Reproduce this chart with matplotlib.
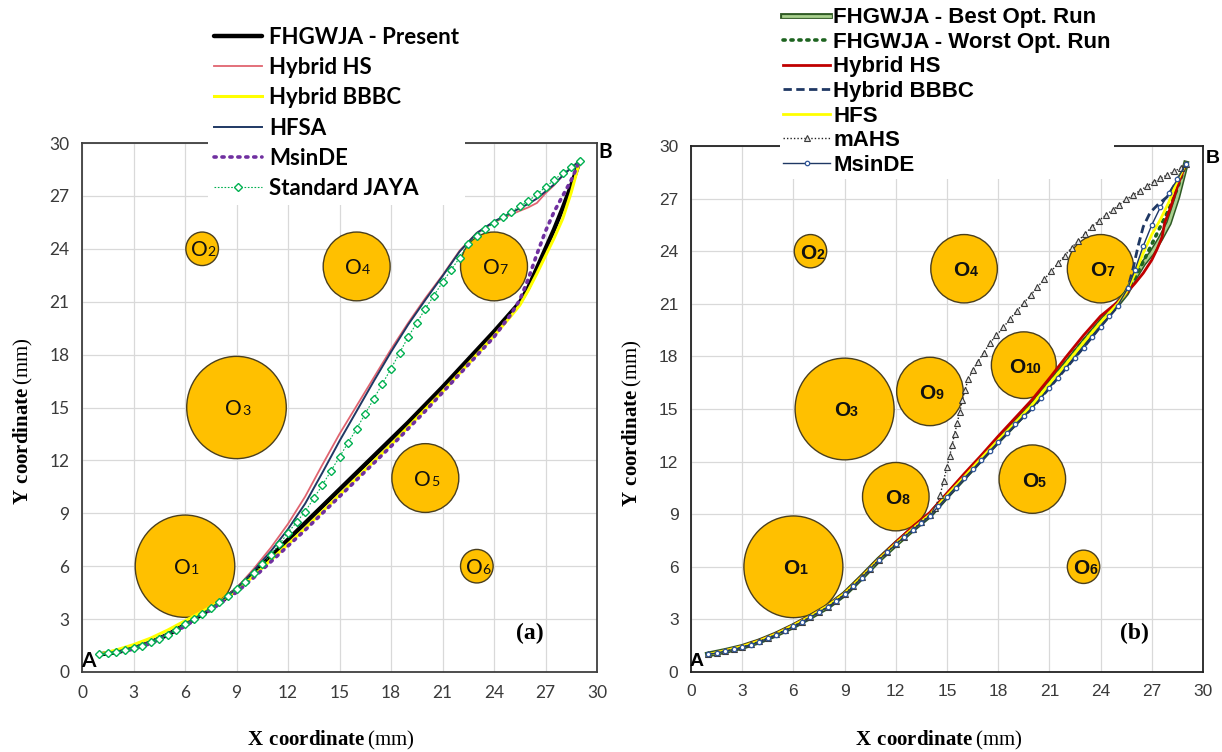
import matplotlib
matplotlib.use("Agg")
import matplotlib.pyplot as plt
import matplotlib.patheffects as pe
from matplotlib.patches import Ellipse
from matplotlib.font_manager import FontProperties

plt.rcParams["mathtext.fontset"] = "custom"
plt.rcParams["mathtext.rm"] = "Liberation Serif"
plt.rcParams["mathtext.bf"] = "Liberation Serif:bold"

# ---------------- obstacles (centre x, centre y, radius) ----------------
obs_left_x = [6, 7, 9, 16, 20, 23, 24]
obs_left_y = [6, 24, 15, 23, 11, 6, 23]
obs_left_r = [2.9, 0.95, 2.9, 1.95, 1.95, 0.95, 1.95]
obs_left_id = ["1", "2", "3", "4", "5", "6", "7"]

obs_right_x = [6, 7, 9, 16, 20, 23, 24, 12, 14, 19.5]
obs_right_y = [6, 24, 15, 23, 11, 6, 23, 10, 16, 17.5]
obs_right_r = [2.9, 0.95, 2.9, 1.95, 1.95, 0.95, 1.95, 1.95, 1.95, 1.9]
obs_right_id = ["1", "2", "3", "4", "5", "6", "7", "8", "9", "10"]

# ---------------- panel (a) paths ----------------
grid_a = [1, 2, 3, 4, 5, 6, 7, 8, 9, 10, 11, 12, 13, 14, 15, 16, 17, 18, 19, 20,
          21, 22, 23, 24, 25, 25.5, 26, 26.5, 27, 27.5, 28, 28.5, 29]
present_y = [1.0, 1.12, 1.35, 1.68, 2.12, 2.68, 3.28, 3.92, 4.68, 5.6, 6.55, 7.5,
             8.45, 9.4, 10.35, 11.3, 12.25, 13.2, 14.15, 15.15, 16.15, 17.2, 18.25,
             19.3, 20.4, 20.95, 21.8, 22.9, 24.0, 25.1, 26.3, 27.6, 29.0]
hs_a_y = [1.0, 1.15, 1.4, 1.72, 2.15, 2.7, 3.3, 3.95, 4.75, 5.85, 7.05, 8.4, 9.95,
          11.75, 13.5, 15.1, 16.7, 18.3, 19.8, 21.2, 22.5, 23.9, 24.9, 25.5, 25.95,
          26.15, 26.35, 26.6, 27.15, 27.6, 28.15, 28.6, 29.0]
bbbc_a_y = [1.0, 1.25, 1.55, 1.92, 2.38, 2.9, 3.42, 3.98, 4.62, 5.45, 6.35, 7.25,
            8.15, 9.1, 10.05, 11.0, 11.95, 12.9, 13.9, 14.9, 15.9, 16.95, 18.0,
            19.05, 20.2, 20.8, 21.65, 22.6, 23.6, 24.6, 25.7, 27.2, 29.0]
hfsa_a_y = [1.0, 1.15, 1.4, 1.72, 2.15, 2.7, 3.3, 3.95, 4.72, 5.75, 6.85, 8.1, 9.55,
            11.3, 13.1, 14.8, 16.5, 18.15, 19.7, 21.1, 22.45, 23.85, 24.9, 25.55,
            26.05, 26.3, 26.55, 26.85, 27.25, 27.65, 28.15, 28.6, 29.0]
msinde_a_y = [1.0, 1.1, 1.3, 1.62, 2.05, 2.6, 3.2, 3.85, 4.52, 5.35, 6.25, 7.15,
              8.05, 9.0, 9.95, 10.9, 11.85, 12.8, 13.8, 14.8, 15.85, 16.9, 17.95,
              19.0, 20.3, 21.1, 22.3, 23.7, 25.0, 26.1, 27.0, 27.9, 29.0]
jaya_x = [1, 1.5, 2, 2.5, 3, 3.5, 4, 4.5, 5, 5.5, 6, 6.5, 7, 7.5, 8, 8.5, 9, 9.5,
          10, 10.5, 11, 11.5, 12, 12.5, 13, 13.5, 14, 14.5, 15, 15.5, 16, 16.5, 17,
          17.5, 18, 18.5, 19, 19.5, 20, 20.5, 21, 21.5, 22, 22.5, 23, 23.5, 24,
          24.5, 25, 25.5, 26, 26.5, 27, 27.5, 28, 28.5, 29]
jaya_y = [1.0, 1.05, 1.12, 1.22, 1.35, 1.5, 1.68, 1.88, 2.12, 2.4, 2.7, 3.0, 3.3,
          3.62, 3.95, 4.32, 4.7, 5.12, 5.6, 6.1, 6.65, 7.25, 7.9, 8.5, 9.1, 9.85,
          10.6, 11.4, 12.2, 13.0, 13.8, 14.65, 15.5, 16.35, 17.2, 18.1, 19.0, 19.8,
          20.6, 21.35, 22.1, 22.8, 23.5, 24.3, 24.75, 25.15, 25.45, 25.8, 26.1,
          26.4, 26.7, 27.1, 27.5, 27.9, 28.3, 28.65, 29.0]

# ---------------- panel (b) paths ----------------
grid_b = [1, 2, 3, 4, 5, 6, 7, 8, 9, 10, 11, 12, 13, 14, 15, 16, 17, 18, 19, 20,
          21, 22, 23, 24, 25, 25.5, 26, 26.5, 27, 27.5, 28, 28.5, 29]
best_y = [1.0, 1.2, 1.43, 1.75, 2.15, 2.62, 3.15, 3.72, 4.45, 5.4, 6.4, 7.3, 8.15,
          8.95, 10.05, 11.1, 12.15, 13.2, 14.2, 15.25, 16.45, 17.6, 18.8, 19.95,
          21.0, 21.6, 22.5, 23.3, 23.9, 24.7, 25.6, 27.1, 29.0]
worst_y = [1.0, 1.2, 1.45, 1.78, 2.17, 2.65, 3.17, 3.75, 4.5, 5.45, 6.45, 7.35, 8.2,
           9.0, 10.1, 11.15, 12.2, 13.25, 14.25, 15.3, 16.5, 17.7, 18.9, 20.0,
           21.05, 21.65, 22.45, 23.4, 24.4, 25.4, 26.4, 27.6, 29.0]
hs_b_x = [1, 2, 3, 4, 5, 6, 7, 8, 9, 10, 11, 12, 13, 14, 15, 16, 17, 18, 19, 20,
          21, 22, 23, 24, 25, 25.5, 26, 26.5, 27, 27.3, 27.6, 27.75, 28.1, 28.5, 29]
hs_b_y = [1.0, 1.22, 1.47, 1.8, 2.2, 2.68, 3.2, 3.78, 4.5, 5.45, 6.45, 7.4, 8.3,
          9.1, 10.2, 11.3, 12.35, 13.45, 14.5, 15.55, 16.75, 18.0, 19.2, 20.3,
          21.1, 21.6, 22.15, 22.75, 23.5, 24.1, 24.8, 25.6, 26.5, 27.7, 29.0]
bbbc_b_x = [1, 2, 3, 4, 5, 6, 7, 8, 9, 10, 11, 12, 13, 14, 15, 16, 17, 18, 19, 20,
            21, 22, 23, 24, 25, 25.6, 25.9, 26.2, 26.5, 26.9, 27.4, 27.9, 28.4, 29]
bbbc_b_y = [1.0, 1.18, 1.4, 1.72, 2.1, 2.58, 3.1, 3.68, 4.4, 5.35, 6.35, 7.25, 8.1,
            8.9, 9.95, 11.0, 12.05, 13.1, 14.1, 15.05, 16.2, 17.35, 18.5, 19.7,
            20.85, 21.9, 23.0, 24.3, 25.4, 26.2, 26.7, 27.1, 27.9, 29.0]
hfs_x = [1, 2, 3, 4, 5, 6, 7, 8, 9, 10, 11, 12, 13, 14, 15, 16, 17, 18, 19, 20,
         21, 22, 23, 24, 25, 25.5, 26, 26.5, 27, 27.5, 28, 28.4, 28.8, 29]
hfs_y = [1.0, 1.22, 1.46, 1.78, 2.18, 2.66, 3.18, 3.76, 4.48, 5.42, 6.42, 7.32,
         8.18, 8.98, 10.08, 11.12, 12.18, 13.22, 14.22, 15.25, 16.45, 17.6, 18.8,
         19.95, 21.0, 21.65, 22.7, 23.9, 24.95, 25.8, 26.8, 27.8, 28.6, 29.0]
mahs_x = [1, 1.5, 2, 2.5, 3, 3.5, 4, 4.5, 5, 5.5, 6, 6.5, 7, 7.5, 8, 8.5, 9, 9.5,
          10, 10.5, 11, 11.5, 12, 12.5, 13, 13.5, 14, 14.3, 14.6, 14.8, 15.0, 15.15,
          15.3, 15.45, 15.6, 15.75, 15.9, 16.05, 16.25, 16.5, 16.8, 17.15, 17.5,
          17.9, 18.3, 18.7, 19.1, 19.5, 19.9, 20.3, 20.7, 21.1, 21.5, 21.9, 22.3,
          22.7, 23.1, 23.5, 23.9, 24.3, 24.7, 25.1, 25.5, 25.9, 26.3, 26.7, 27.1,
          27.5, 27.9, 28.3, 28.7, 29]
mahs_y = [1.0, 1.1, 1.2, 1.31, 1.43, 1.58, 1.75, 1.94, 2.15, 2.38, 2.62, 2.88, 3.15,
          3.43, 3.72, 4.06, 4.45, 4.9, 5.4, 5.9, 6.4, 6.85, 7.3, 7.72, 8.15, 8.55,
          8.95, 9.35, 10.1, 10.9, 11.7, 12.3, 12.95, 13.6, 14.2, 14.85, 15.5, 16.1,
          16.7, 17.2, 17.7, 18.2, 18.75, 19.2, 19.65, 20.15, 20.6, 21.05, 21.5,
          21.95, 22.4, 22.85, 23.3, 23.75, 24.2, 24.6, 25.0, 25.4, 25.75, 26.05,
          26.35, 26.65, 26.95, 27.2, 27.45, 27.7, 27.95, 28.15, 28.35, 28.55, 28.75,
          29.0]
msinde_b_x = [1, 1.5, 2, 2.5, 3, 3.5, 4, 4.5, 5, 5.5, 6, 6.5, 7, 7.5, 8, 8.5, 9, 9.5,
              10, 10.5, 11, 11.5, 12, 12.5, 13, 13.5, 14, 14.5, 15, 15.5, 16, 16.5,
              17, 17.5, 18, 18.5, 19, 19.5, 20, 20.5, 21, 21.5, 22, 22.5, 23, 23.5,
              24, 24.5, 25, 25.6, 26, 26.5, 27, 27.5, 28, 28.5, 29]
msinde_b_y = [1.0, 1.08, 1.18, 1.29, 1.41, 1.56, 1.73, 1.92, 2.13, 2.36, 2.6, 2.86,
              3.13, 3.41, 3.7, 4.04, 4.43, 4.88, 5.38, 5.88, 6.38, 6.83, 7.28, 7.7,
              8.12, 8.52, 8.92, 9.45, 10.0, 10.52, 11.05, 11.55, 12.08, 12.6, 13.12,
              13.62, 14.12, 14.6, 15.08, 15.62, 16.2, 16.78, 17.35, 17.92, 18.5,
              19.08, 19.68, 20.28, 20.9, 21.9, 22.9, 24.3, 25.5, 26.5, 27.3, 28.1,
              29.0]

FIG_W, FIG_H = 1222, 752
fig = plt.figure(figsize=(FIG_W / 100, FIG_H / 100), dpi=100)
axL = fig.add_axes([82 / FIG_W, 80 / FIG_H, 515 / FIG_W, 529 / FIG_H])
axR = fig.add_axes([691 / FIG_W, 80 / FIG_H, 512 / FIG_W, 526 / FIG_H])

OBS_FILL = "#FFC000"
OBS_EDGE = "#4A3F1E"


def style_axes(ax, tick_family, spine_color):
    ax.set_xlim(0, 30)
    ax.set_ylim(0, 30)
    ax.set_xticks(range(0, 31, 3))
    ax.set_yticks(range(0, 31, 3))
    ax.grid(True, color="#D9D9D9", linewidth=0.9)
    ax.set_axisbelow(True)
    ax.tick_params(length=0, pad=9, labelsize=12.5, labelcolor="#3A3A3A")
    for lab in ax.get_xticklabels() + ax.get_yticklabels():
        lab.set_fontfamily(tick_family)
    for sp in ax.spines.values():
        sp.set_color(spine_color)
        sp.set_linewidth(1.3)
    ax.set_xlabel(r"$\mathbf{X\ coordinate}\,\mathrm{(mm)}$", fontsize=15)
    ax.set_ylabel(r"$\mathbf{Y\ coordinate}\,\mathrm{(mm)}$", fontsize=15)
    ax.xaxis.set_label_coords(0.484, -0.108)
    ax.yaxis.set_label_coords(-0.092, 0.474)


def draw_obstacles(ax, xs, ys, rs, ids, family, weight, size):
    for x, y, r, k in zip(xs, ys, rs, ids):
        ax.add_patch(Ellipse((x, y), 2 * r, 2 * r, facecolor=OBS_FILL,
                             edgecolor=OBS_EDGE, linewidth=1.0, zorder=1.5))
        sub = size * 0.68
        w_o = 0.78 * size
        w_d = 0.56 * sub * len(k)
        dx = (w_o - w_d) / 2 + 1.0
        dy = -size * 0.36
        ax.annotate("O", (x, y), xytext=(dx, dy), textcoords="offset points",
                    ha="right", va="baseline", fontsize=size, family=family,
                    fontweight=weight, color="#111111", zorder=2)
        ax.annotate(k, (x, y), xytext=(dx, dy), textcoords="offset points",
                    ha="left", va="baseline", fontsize=sub, family=family,
                    fontweight=weight, color="#111111", zorder=2)


# ---------------- panel (a) ----------------
style_axes(axL, "Lato", "#3F3F3F")
draw_obstacles(axL, obs_left_x, obs_left_y, obs_left_r, obs_left_id, "Lato", "normal", 15)

hL = []
hL += axL.plot(grid_a, present_y, color="black", lw=3.2, solid_capstyle="round",
               label="FHGWJA - Present", zorder=3)
hL += axL.plot(grid_a, hs_a_y, color="#E06470", lw=1.3, label="Hybrid HS", zorder=3.1)
hL += axL.plot(grid_a, bbbc_a_y, color="#FFFF00", lw=2.2, label="Hybrid BBBC", zorder=3.2)
hL += axL.plot(grid_a, hfsa_a_y, color="#1F3864", lw=1.4, label="HFSA", zorder=3.3)
hL += axL.plot(grid_a, msinde_a_y, color="#7030A0", lw=2.6, linestyle=(0, (0.6, 1.6)),
               dash_capstyle="round", label="MsinDE", zorder=3.4)
hL += axL.plot(jaya_x, jaya_y, color="#00B050", lw=0.8, linestyle=(0, (1.5, 1.5)),
               marker="D", markersize=4.2, markerfacecolor="white",
               markeredgecolor="#00B050", markeredgewidth=1.0,
               label="Standard JAYA", zorder=3.5)

axL.text(0.35, 0.6, "A", fontsize=15, fontweight="bold", family="Lato",
         ha="center", va="center", zorder=4)
axL.text(30.45, 29.5, "B", fontsize=15, fontweight="bold", family="Lato",
         ha="center", va="center", zorder=4, clip_on=False)
axL.text(26.1, 2.2, "(a)", fontsize=17, fontweight="bold", family="Liberation Serif",
         ha="center", va="center", zorder=4)

legL = axL.legend(handles=hL, loc="upper left",
                  bbox_to_anchor=(208 / FIG_W, 1 - 21 / FIG_H),
                  bbox_transform=fig.transFigure,
                  prop=FontProperties(family="Lato", weight="bold", size=16),
                  frameon=True, fancybox=False, framealpha=1, edgecolor="none",
                  facecolor="white", borderpad=0.25, borderaxespad=0,
                  handlelength=2.2, handletextpad=0.3, labelspacing=0.42)
legL.set_zorder(10)

# ---------------- panel (b) ----------------
style_axes(axR, "Liberation Sans", "#222222")
draw_obstacles(axR, obs_right_x, obs_right_y, obs_right_r, obs_right_id,
               "Liberation Sans", "bold", 15)

hR = []
hR += axR.plot(grid_b, best_y, color="#A9D08E", lw=2.0, label="FHGWJA - Best Opt. Run",
               path_effects=[pe.Stroke(linewidth=4.2, foreground="#2F5A24"), pe.Normal()],
               zorder=3)
hR += axR.plot(grid_b, worst_y, color="#1E6420", lw=2.6, linestyle=(0, (0.6, 1.6)),
               dash_capstyle="round", label="FHGWJA - Worst Opt. Run", zorder=3.1)
hR += axR.plot(hs_b_x, hs_b_y, color="#C00000", lw=2.0, label="Hybrid HS", zorder=3.2)
hR += axR.plot(bbbc_b_x, bbbc_b_y, color="#1F3864", lw=2.0, linestyle=(0, (3, 1.6)),
               label="Hybrid BBBC", zorder=3.3)
hR += axR.plot(hfs_x, hfs_y, color="#FFFF00", lw=2.0, label="HFS", zorder=3.4)
hR += axR.plot(mahs_x, mahs_y, color="#202020", lw=1.0, linestyle=(0, (1, 1.5)),
               marker="^", markersize=4.5, markerfacecolor="#E6E6E6",
               markeredgecolor="#3A3A3A", markeredgewidth=0.8, label="mAHS", zorder=3.5)
hR += axR.plot(msinde_b_x, msinde_b_y, color="#1F3864", lw=1.0, marker="o",
               markersize=3.2, markerfacecolor="white", markeredgecolor="#2F5597",
               markeredgewidth=0.9, label="MsinDE", zorder=3.6)

axR.text(0.35, 0.6, "A", fontsize=14, fontweight="bold", family="Liberation Sans",
         ha="center", va="center", zorder=4)
axR.text(30.6, 29.3, "B", fontsize=14, fontweight="bold", family="Liberation Sans",
         ha="center", va="center", zorder=4, clip_on=False)
axR.text(26.0, 2.2, "(b)", fontsize=17, fontweight="bold", family="Liberation Serif",
         ha="center", va="center", zorder=4)

legR = axR.legend(handles=hR, loc="upper left",
                  bbox_to_anchor=(780 / FIG_W, 1 - 4 / FIG_H),
                  bbox_transform=fig.transFigure,
                  prop=FontProperties(family="Liberation Sans", weight="bold", size=16),
                  frameon=True, fancybox=False, framealpha=1, edgecolor="none",
                  facecolor="white", borderpad=0.15, borderaxespad=0,
                  handlelength=2.1, handletextpad=0.15, labelspacing=0.16)
legR.set_zorder(10)

fig.savefig("out.png", dpi=100, facecolor="white")
